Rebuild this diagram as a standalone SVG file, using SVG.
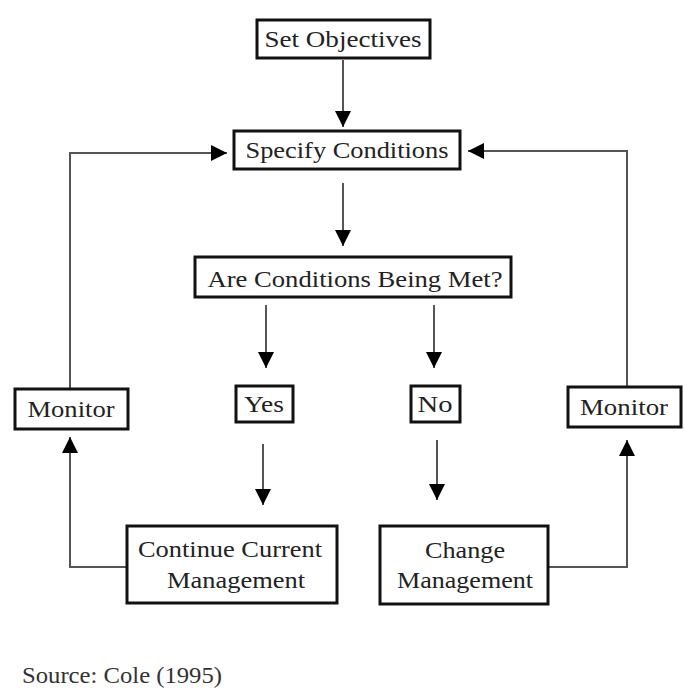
<svg xmlns="http://www.w3.org/2000/svg" width="684" height="693" viewBox="0 0 684 693">
<style>
.box{fill:#fff;stroke:#111;stroke-width:3}
text{font-size:24px;fill:#222}
.t{text-anchor:middle}
.src{fill:#333}
.c{fill:none;stroke:#555;stroke-width:2;marker-end:url(#ah)}
</style>
<defs>
<marker id="ah" markerUnits="userSpaceOnUse" viewBox="0 0 16 16" refX="16" refY="8" markerWidth="16" markerHeight="16" orient="auto">
<path d="M0,0 L16,8 L0,16 z" fill="#000"/>
</marker>
</defs>
<rect width="684" height="693" fill="#fff"/>
<g id="connectors">
<path class="c" d="M343,60 V127"/>
<path class="c" d="M343,183 V246"/>
<path class="c" d="M266,305 V368"/>
<path class="c" d="M434,305 V368"/>
<path class="c" d="M263,444 V505"/>
<path class="c" d="M437,440 V500"/>
<path class="c" d="M126,567 H70 V437"/>
<path class="c" d="M70,388 V153 H227"/>
<path class="c" d="M548,567 H627 V440"/>
<path class="c" d="M627,386 V151 H468"/>
</g>
<g font-family="Liberation Serif, DejaVu Serif, serif">
<g id="set-objectives"><rect class="box" x="257" y="20" width="173" height="38"/><text class="t" x="343" y="47" textLength="157" lengthAdjust="spacingAndGlyphs">Set Objectives</text></g>
<g id="specify-conditions"><rect class="box" x="234" y="131" width="226" height="38"/><text class="t" x="347" y="158" textLength="203" lengthAdjust="spacingAndGlyphs">Specify Conditions</text></g>
<g id="are-conditions"><rect class="box" x="195" y="257" width="316" height="40"/><text class="t" x="355" y="287" textLength="295" lengthAdjust="spacingAndGlyphs">Are Conditions Being Met?</text></g>
<g id="yes"><rect class="box" x="236" y="386" width="57" height="36"/><text class="t" x="264" y="412" textLength="40" lengthAdjust="spacingAndGlyphs">Yes</text></g>
<g id="no"><rect class="box" x="411" y="386" width="49" height="36"/><text class="t" x="435" y="412" textLength="35" lengthAdjust="spacingAndGlyphs">No</text></g>
<g id="monitor-left"><rect class="box" x="15" y="389" width="113" height="40"/><text class="t" x="71" y="417" textLength="87" lengthAdjust="spacingAndGlyphs">Monitor</text></g>
<g id="monitor-right"><rect class="box" x="568" y="387" width="113" height="40"/><text class="t" x="624" y="415" textLength="88" lengthAdjust="spacingAndGlyphs">Monitor</text></g>
<g id="continue-current"><rect class="box" x="127" y="526" width="210" height="77"/><text class="t" x="230" y="557" textLength="184" lengthAdjust="spacingAndGlyphs">Continue Current</text><text class="t" x="236" y="588" textLength="138" lengthAdjust="spacingAndGlyphs">Management</text></g>
<g id="change-management"><rect class="box" x="380" y="526" width="168" height="78"/><text class="t" x="465" y="558" textLength="80" lengthAdjust="spacingAndGlyphs">Change</text><text class="t" x="465" y="588" textLength="136" lengthAdjust="spacingAndGlyphs">Management</text></g>
<text class="src" x="22" y="683" textLength="200" lengthAdjust="spacingAndGlyphs">Source: Cole (1995)</text>
</g>
</svg>
